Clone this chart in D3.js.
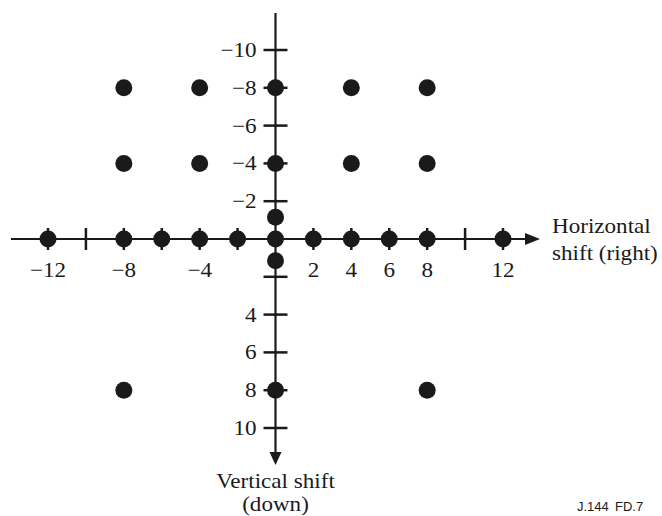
<!DOCTYPE html>
<html><head><meta charset="utf-8">
<script src="https://cdn.jsdelivr.net/npm/d3@7"></script>
<style>html,body{margin:0;padding:0;background:#fff;}svg{display:block;}</style>
</head><body>
<svg id="c" width="662" height="516"></svg>
<script>
const xTicks = [-12,-10,-8,-6,-4,-2,2,4,6,8,10,12];
const xLabels = [-12,-8,-4,2,4,6,8,12];
const yTicks = [-10,-8,-6,-4,-2,2,4,6,8,10];
const yLabels = [-10,-8,-6,-4,-2,4,6,8,10];
const pointX = [-8,-4,0,4,8, -8,-4,0,4,8, 0, -12,-8,-6,-4,-2,0,2,4,6,8,12, 0, -8,0,8];
const pointY = [-8,-8,-8,-8,-8, -4,-4,-4,-4,-4, -1.15, 0,0,0,0,0,0,0,0,0,0,0, 1.15, 8,8,8];

const svg = d3.select('#c');
const x = d3.scaleLinear().domain([-12,12]).range([48,503]);
const y = d3.scaleLinear().domain([-10,10]).range([50,428]);
const ink = '#1a1a1a';
const serif = '"Liberation Serif","Times New Roman",serif';
const FS = 21, SX = 1.1;

// axes lines
svg.append('line').attr('x1',11).attr('x2',528).attr('y1',y(0)).attr('y2',y(0)).attr('stroke',ink).attr('stroke-width',2.2);
svg.append('path').attr('d',`M${540},${y(0)} L${525},${y(0)-6} L${525},${y(0)+6} Z`).attr('fill',ink);
svg.append('line').attr('x1',x(0)).attr('x2',x(0)).attr('y1',13).attr('y2',455).attr('stroke',ink).attr('stroke-width',2.2);
svg.append('path').attr('d',`M${x(0)},${465} L${x(0)-6},${452} L${x(0)+6},${452} Z`).attr('fill',ink);

// ticks
svg.selectAll('.xt').data(xTicks).enter().append('line')
  .attr('x1',d=>x(d)).attr('x2',d=>x(d)).attr('y1',y(0)-11).attr('y2',y(0)+11)
  .attr('stroke',ink).attr('stroke-width',2.5);
svg.selectAll('.yt').data(yTicks).enter().append('line')
  .attr('x1',x(0)-12).attr('x2',x(0)+12).attr('y1',d=>y(d)).attr('y2',d=>y(d))
  .attr('stroke',ink).attr('stroke-width',2.5);

const fmt = d => d < 0 ? '\u2212' + Math.abs(d) : String(d);
svg.selectAll('.xl').data(xLabels).enter().append('text')
  .attr('transform',d=>`translate(${x(d)},${y(0)+38}) scale(${SX},1)`).attr('text-anchor','middle')
  .attr('font-family',serif).attr('font-size',FS).attr('fill',ink).text(fmt);
svg.selectAll('.yl').data(yLabels).enter().append('text')
  .attr('transform',d=>`translate(${x(0)-19},${y(d)+7}) scale(${SX},1)`).attr('text-anchor','end')
  .attr('font-family',serif).attr('font-size',FS).attr('fill',ink).text(fmt);

// points
svg.selectAll('.pt').data(pointX.map((v,i)=>[v,pointY[i]])).enter().append('circle')
  .attr('cx',d=>x(d[0])).attr('cy',d=>y(d[1])).attr('r',8.5).attr('fill',ink);

// titles
const hx = svg.append('g').attr('transform',`translate(552,0) scale(${SX},1)`)
  .append('text').attr('font-family',serif).attr('font-size',FS).attr('fill',ink);
hx.append('tspan').attr('x',0).attr('y',233).text('Horizontal');
hx.append('tspan').attr('x',0).attr('y',260).text('shift (right)');
const vy = svg.append('g').attr('transform',`translate(${x(0)},0) scale(${SX},1)`)
  .append('text').attr('font-family',serif).attr('font-size',FS).attr('fill',ink).attr('text-anchor','middle');
vy.append('tspan').attr('x',0).attr('y',488).text('Vertical shift');
vy.append('tspan').attr('x',0).attr('y',511).text('(down)');

const fd = svg.append('text').attr('y',511).attr('font-family','"Liberation Sans",Arial,sans-serif')
  .attr('font-size',13).attr('fill',ink);
fd.append('tspan').attr('x',577).text('J.144');
fd.append('tspan').attr('x',615).text('FD.7');
</script>
</body></html>
